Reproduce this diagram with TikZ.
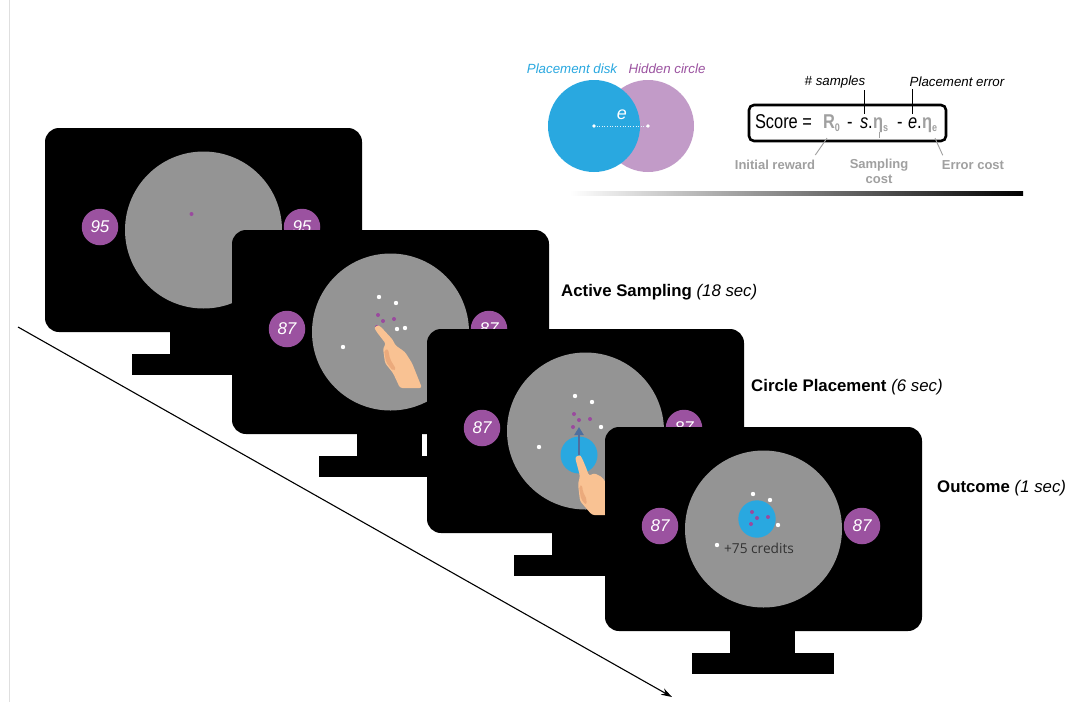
\documentclass[tikz,border=0pt]{standalone}
\usepackage{fontspec}
\setmainfont{Liberation Sans}
\newfontfamily\creditfont{Open Sans}
\newfontfamily\formulafont[FakeStretch=0.82]{Liberation Sans}
\usetikzlibrary{arrows.meta,calc}

\definecolor{screengray}{HTML}{949494}
\definecolor{badgepurple}{HTML}{9B52A0}
\definecolor{diskblue}{HTML}{29A8E0}
\definecolor{hiddenpurple}{HTML}{C29BC8}
\definecolor{dotpurple}{HTML}{9A4A9E}
\definecolor{skin}{HTML}{F9C293}
\definecolor{skinshade}{HTML}{EBAA7C}
\definecolor{pointblue}{HTML}{4E6E9E}
\definecolor{labelgray}{HTML}{A0A0A0}
\definecolor{creditgray}{HTML}{333333}

\newcommand{\fsz}[1]{\fontsize{#1}{#1}\selectfont}
\newcommand{\lowsub}[1]{\raisebox{-3pt}{\fsz{11}#1}}

% one monitor: stand, black screen and the grey arena, in local pixel units
\newcommand{\monitorbody}{%
  \fill[black] (125,200) rectangle (190,227);
  \fill[black] (87,226) rectangle (229,247);
  \fill[black, rounded corners=14pt] (0,0) rectangle (317,204);
  \fill[screengray] (158.5,102) circle[radius=78.5];
}
\newcommand{\wdot}[1]{\fill[white] #1 circle[radius=2.2];}
\newcommand{\pdot}[1]{\fill[dotpurple] #1 circle[radius=2];}

\begin{document}
\begin{tikzpicture}[x=1pt,y=-1pt,
  badge/.style={circle, fill=badgepurple, minimum size=36.5pt, inner sep=0pt,
    text=white, font=\fsz{17}\itshape},
  phase/.style={anchor=west, inner sep=0pt, font=\fsz{16.8}},
  ftxt/.style={anchor=base west, inner sep=0pt, outer sep=0pt, font=\formulafont\fsz{20}},
  fgray/.style={ftxt, text=labelgray, font=\formulafont\fsz{20}\bfseries},
  toplabel/.style={inner sep=0pt, font=\fsz{13.3}\itshape},
  graylabel/.style={inner sep=0pt, font=\fsz{13}\bfseries, text=labelgray, align=center},
  lead/.style={line width=1.2pt, black},
  graylead/.style={line width=0.9pt, labelgray},
]
\useasboundingbox (0,0) rectangle (1088,702);
\fill[white] (0,0) rectangle (1088,702);
\draw[gray!25, line width=0.8pt] (9,0) -- (9,702);

% time axis
\coordinate (tstart) at (18,327);
\coordinate (tend) at (672,697);
\draw[line width=1.1pt, -{Stealth[length=11pt,width=7pt]}] (tstart) -- (tend);

% ---- monitor 1: start of trial
\begin{scope}[shift={(45,128)}]
  \monitorbody
  \pdot{(146.5,86)}
  \node[badge] (b1l) at (55,99) {95};
  \node[badge] (b1r) at (257,99) {95};
\end{scope}

% ---- monitor 2: active sampling
\begin{scope}[shift={(232,230)}]
  \monitorbody
  \wdot{(147,67)} \wdot{(164,73)} \wdot{(165,99)} \wdot{(173,98)} \wdot{(111,117)}
  \pdot{(146,85)} \pdot{(151,91)} \pdot{(162,89)} \pdot{(145,97)}
  \node[badge] (b2l) at (55,99) {87};
  \node[badge] (b2r) at (257,99) {87};
\end{scope}
% pointing hand
\fill[skin, rounded corners=2.5pt] (376,331) .. controls (374,327) and (378,325) .. (381,327)
  -- (393,340) -- (395,345) -- (405,352) -- (412,363) -- (422,388) -- (400,388)
  -- (393,373) -- (385,363) -- (383,348) -- (386,344) -- cycle;
\fill[skinshade, rounded corners=2pt] (384,350) -- (386,362) -- (393,371) -- (396,369)
  -- (390,359) -- (388,349) -- cycle;

% ---- monitor 3: circle placement
\begin{scope}[shift={(427,329)}]
  \monitorbody
  \wdot{(148,67)} \wdot{(165,73)} \wdot{(174,98)} \wdot{(112,118)}
  \pdot{(147,85)} \pdot{(152,91)} \pdot{(163,90)} \pdot{(146,98)}
  \node[badge] (b3l) at (55,99) {87};
  \node[badge] (b3r) at (257,99) {87};
  \node[circle, fill=diskblue, minimum size=37pt, inner sep=0pt] (disk3) at (152,126) {};
  \coordinate (aim3) at (152,98);
  \draw[pointblue, line width=2pt, -{Triangle[length=8pt,width=9pt]}] (disk3.center) -- (aim3);
\end{scope}
% dragging hand
\fill[skin, rounded corners=2.5pt] (576,461) .. controls (575,456) and (580,455) .. (582,458)
  -- (587,470) -- (589,476) -- (594,473) -- (602,477) -- (612,492) -- (612,515) -- (592,515)
  -- (580,501) -- (578,484) -- (580,476) -- cycle;
\fill[skinshade, rounded corners=2pt] (579,486) -- (581,499) -- (586,505) -- (587,500)
  -- (583,492) -- (582,485) -- cycle;

% ---- monitor 4: outcome
\begin{scope}[shift={(605,427)}]
  \monitorbody
  \wdot{(148,67)} \wdot{(165,73)} \wdot{(173,98)} \wdot{(112,118)}
  \node[circle, fill=diskblue, minimum size=37.4pt, inner sep=0pt] (disk4) at (152,92) {};
  \pdot{(147,85)} \pdot{(152,91)} \pdot{(163,90)} \pdot{(146,97)}
  \node[badge] (b4l) at (55,99) {87};
  \node[badge] (b4r) at (257,99) {87};
  \node[inner sep=0pt, text=creditgray, font=\creditfont\fsz{13.7}] (credit) at (154,121) {+75 credits};
\end{scope}

% phase labels
\node[phase] (ph2) at (561,292) {\textbf{Active Sampling} \textit{(18 sec)}};
\node[phase] (ph3) at (751,387) {\textbf{Circle Placement} \textit{(6 sec)}};
\node[phase] (ph4) at (937,488) {\textbf{Outcome} \textit{(1 sec)}};

% ---- scoring inset: placement disk and hidden circle
\node[circle, fill=hiddenpurple, minimum size=92pt, inner sep=0pt] (hidden) at (648,126) {};
\node[circle, fill=diskblue, minimum size=92pt, inner sep=0pt] (place) at (594,126) {};
\draw[white!85!diskblue, dotted, line width=0.6pt] (place.center) -- (hidden.center);
\fill[white] (place.center) circle[radius=1.8];
\fill[white] (hidden.center) circle[radius=1.8];
\node[inner sep=0pt, text=white, font=\fsz{18}\itshape] (err) at (622,115) {e};
\node[toplabel, text=diskblue] (lplace) at (572,69) {Placement disk};
\node[toplabel, text=badgepurple] (lhidden) at (667,69) {Hidden circle};

% ---- scoring inset: score formula
\node[draw, line width=2.6pt, rounded corners=5pt, minimum width=197pt, minimum height=36pt] (box) at (847.5,123) {};
\node[ftxt] (f1) at (755,128) {Score =};
\node[fgray] (r0) at (823,128) {R\lowsub{0}};
\node[ftxt] (m1) at (847,128) {-};
\node[ftxt] (s) at (860,128) {\textit{s}};
\node[ftxt] (d1) at (868,128) {.};
\node[fgray] (es) at (873,128) {η\lowsub{s}};
\node[ftxt] (m2) at (897,128) {-};
\node[ftxt] (e) at (908,128) {\textit{e}};
\node[ftxt] (d2) at (917,128) {.};
\node[fgray] (ee) at (922,128) {η\lowsub{e}};

\node[toplabel] (lsamp) at (835,82) {\# samples};
\node[toplabel] (lerror) at (957,82) {Placement error};
\draw[lead] (s.north |- lsamp.south) ++(0,2) -- ($(s.north)+(0,-3)$);
\draw[lead] (e.north |- lerror.south) ++(0,2) -- ($(e.north)+(0,-3)$);

\node[graylabel] (linit) at (775,165) {Initial reward};
\node[graylabel, anchor=north] (lscost) at (879,159) {Sampling\\[2pt]cost};
\node[graylabel] (lecost) at (973,165) {Error cost};
\draw[graylead] ($(r0.south west)+(4,7)$) -- ($(linit.north east)+(0,-5)$);
\draw[graylead] ($(es.south west)+(6,6)$) -- ($(es.south west)+(6,0)$ |- lscost.north) ++(0,-3);
\draw[graylead] ($(ee.south west)+(13,6)$) -- ($(lecost.north west)+(1,-5)$);

% fading rule under the inset
\shade[left color=white, right color=black] (570,191) rectangle (1023,195);
\end{tikzpicture}
\end{document}
